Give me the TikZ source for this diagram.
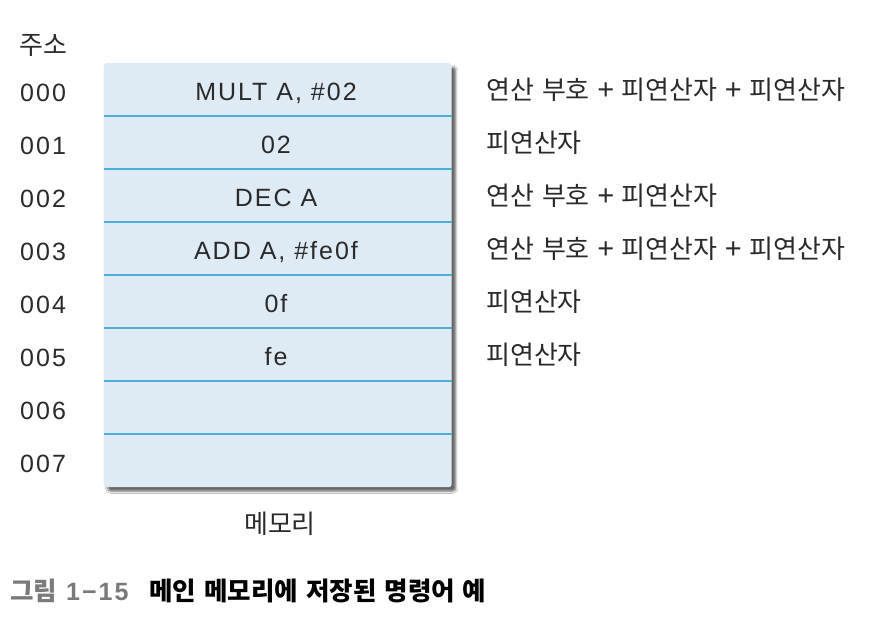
\documentclass[tikz,border=0pt]{standalone}
\usepackage{fontspec}
\setmainfont{Liberation Sans}[LetterSpace=8]
\newfontfamily\kr{Noto Sans CJK KR}
\newfontfamily\latn{Liberation Sans}
\usetikzlibrary{shadows.blur}
\definecolor{cellfill}{HTML}{DEEAF4}
\definecolor{rule}{HTML}{4AAED6}
\definecolor{captgray}{HTML}{7A7A7A}
\definecolor{txt}{HTML}{2A2A2A}
\newcommand{\wsp}{\hspace{8pt}}
\newcommand{\csp}{\hspace{8pt}}
\newcommand{\pls}{\hspace{7.5pt}{\latn\fontsize{29}{28}\selectfont +}\hspace{7.5pt}}
\tikzset{
  lat/.style={font=\fontsize{25}{28}\selectfont, text=txt, inner sep=0pt},
  kor/.style={font=\kr\fontsize{26}{28}\selectfont, text=txt, inner sep=0pt},
  addr/.style={lat, anchor=base west},
  note/.style={kor, anchor=base west},
  cell/.style={lat, anchor=base},
  divider/.style={draw=rule, line width=1.8pt},
  membox/.style={fill=cellfill, rounded corners=3pt, draw=none,
    blur shadow={shadow xshift=4pt, shadow yshift=-4pt, shadow opacity=60, shadow blur steps=6, shadow blur extra rounding=2pt}}
}
\begin{document}
\begin{tikzpicture}[x=1pt,y=-1pt]
\useasboundingbox (0,0) rectangle (884,633);
\fill[white] (0,0) rectangle (884,633);
\node[membox, minimum width=348pt, minimum height=424pt, anchor=north west] (mem) at (103.5,63) {};
\foreach \i in {1,...,7} {
  \draw[divider] (103.5,{63+53*\i}) -- (451.5,{63+53*\i});
}
\node[kor, anchor=base west] (hdr) at (19,54) {주소};
\foreach \a [count=\k from 0] in {000,001,002,003,004,005,006,007} {
  \node[addr] (a\k) at (20,{101+53*\k}) {\a};
}
\node[cell] (c0) at (276,100) {MULT A, \#02};
\node[cell] (c1) at (276,153) {02};
\node[cell] (c2) at (276,206) {DEC A};
\node[cell] (c3) at (276,259) {ADD A, \#fe0f};
\node[cell] (c4) at (276,312) {0f};
\node[cell] (c5) at (276,365) {fe};
\node[note] (n0) at (486,99) {연산\wsp 부호\pls 피연산자\pls 피연산자};
\node[note] (n1) at (486,152) {피연산자};
\node[note] (n2) at (486,205) {연산\wsp 부호\pls 피연산자};
\node[note] (n3) at (486,258) {연산\wsp 부호\pls 피연산자\pls 피연산자};
\node[note] (n4) at (486,311) {피연산자};
\node[note] (n5) at (486,364) {피연산자};
\node[kor, anchor=base] (memlbl) at (280,533) {메모리};
\node[anchor=base west, inner sep=0pt, font=\kr\fontsize{25.5}{28}\selectfont\bfseries] (cap) at (10,600)
  {\textcolor{captgray}{그림\hspace{9pt}{\rmfamily\fontsize{25}{28}\selectfont 1−15}}\hspace{21pt}\textcolor{black}{메인\csp 메모리에\csp 저장된\csp 명령어\csp 예}};
\end{tikzpicture}
\end{document}
